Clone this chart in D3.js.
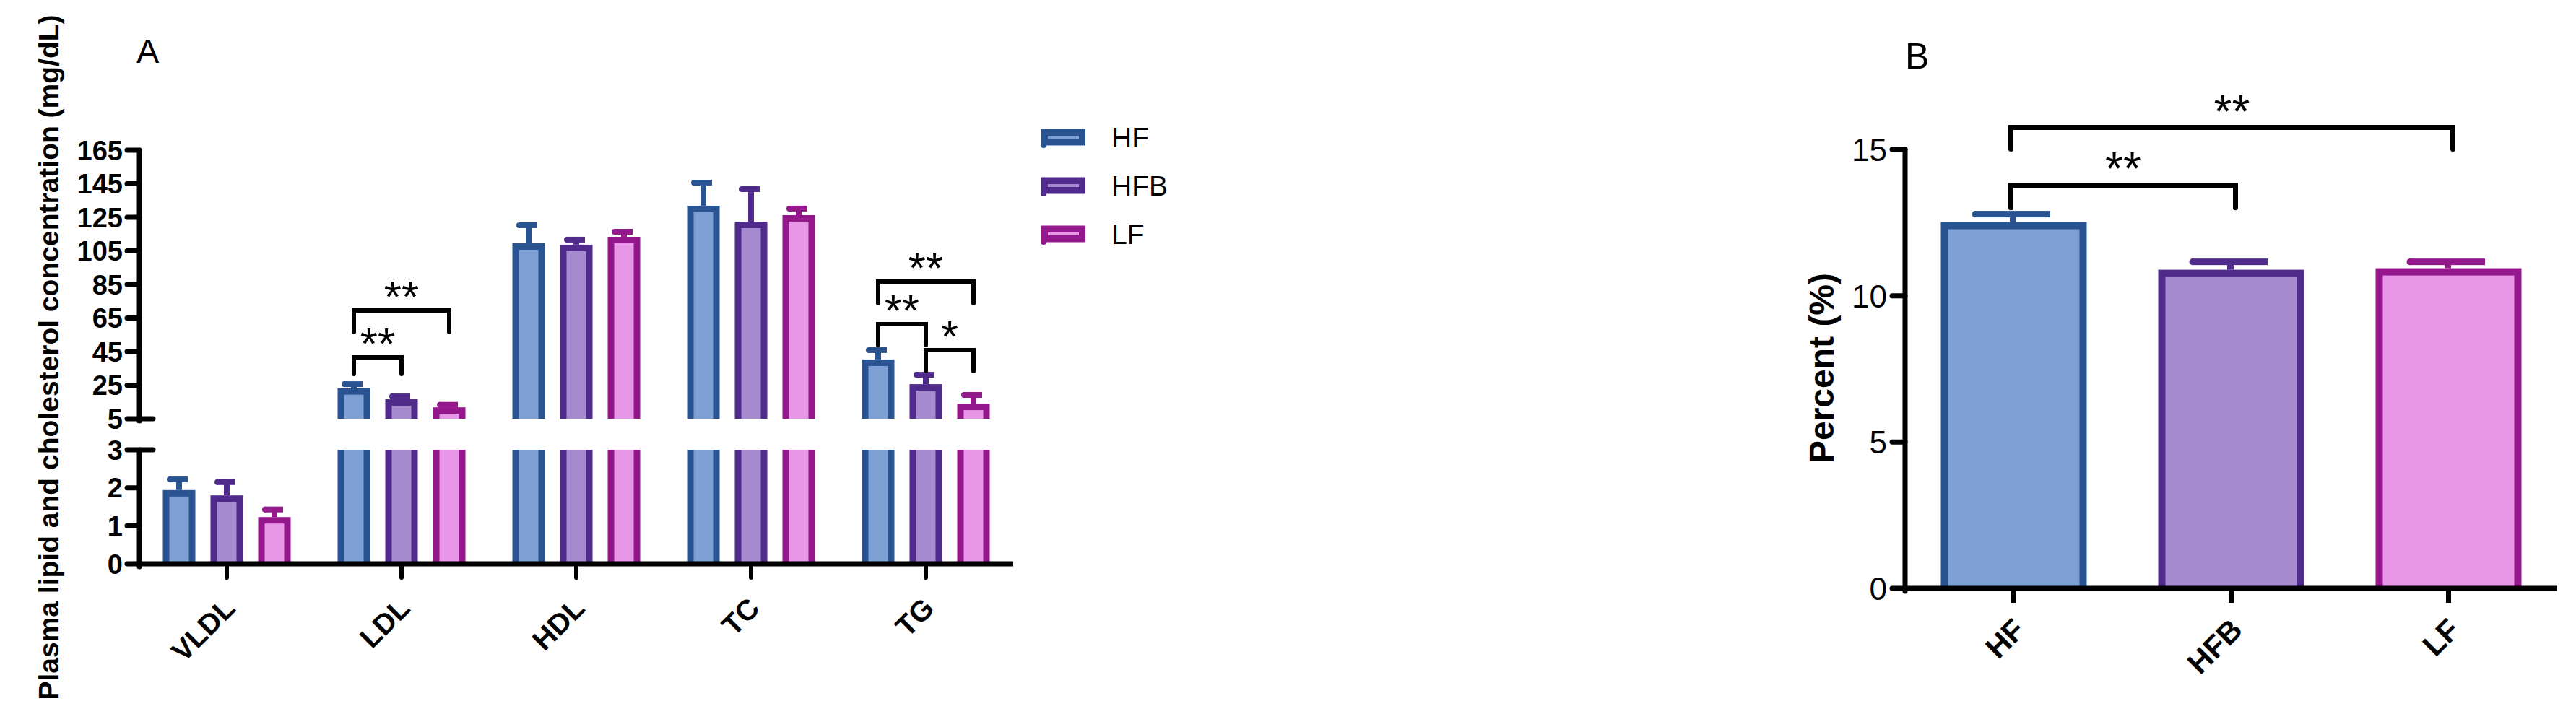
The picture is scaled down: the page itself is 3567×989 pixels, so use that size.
<!DOCTYPE html>
<html><head><meta charset="utf-8">
<script src="https://cdn.jsdelivr.net/npm/d3@7"></script>
<style>body{margin:0;background:#fff} svg{display:block} text{font-family:"Liberation Sans",Arial,sans-serif}</style>
</head><body>
<svg id="c" width="3567" height="989"></svg>
<script>
// ---------------- Data: panel A ----------------
const categories = ["VLDL", "LDL", "HDL", "TC", "TG"];
const series = ["HF", "HFB", "LF"];
const hfMean  = [1.94, 23.2, 109.5, 131.9, 40.3];
const hfErr   = [2.22, 25.6, 120.3, 145.6, 45.9];
const hfbMean = [1.80, 16.6, 108.7, 122.4, 25.6];
const hfbErr  = [2.15, 18.3, 111.7, 141.8, 31.2];
const lfMean  = [1.23, 11.8, 113.4, 126.3, 14.0];
const lfErr   = [1.43, 13.3, 116.4, 130.2, 19.2];
const upperTicks = [5, 25, 45, 65, 85, 105, 125, 145, 165];
const lowerTicks = [0, 1, 2, 3];
const sigCat  = ["LDL", "LDL", "TG", "TG", "TG"];
const sigFrom = ["HF", "HF", "HF", "HF", "HFB"];
const sigTo   = ["HFB", "LF", "HFB", "LF", "LF"];
const sigTop  = [41.6, 69.5, 61.3, 86.7, 45.9];
const sigLeg  = [31.7, 56.6, 48.9, 73.8, 33.4];
const sigText = ["**", "**", "**", "**", "*"];
const titleA = "Plasma lipid and cholesterol concentration (mg/dL)";

// ---------------- Data: panel B ----------------
const groupsB = ["HF", "HFB", "LF"];
const percentMean = [12.52, 10.89, 10.94];
const percentErr  = [12.79, 11.16, 11.16];
const ticksB = [0, 5, 10, 15];
const sigBFrom = ["HF", "HF"];
const sigBTo   = ["HFB", "LF"];
const sigBTop  = [13.78, 15.75];
const sigBLeg  = [13.01, 15.01];
const sigBText = ["**", "**"];
const titleB = "Percent (%)";

const palette = {
  HF:  {stroke: "#2A5391", fill: "#7FA0D4"},
  HFB: {stroke: "#512B8C", fill: "#A68BD1"},
  LF:  {stroke: "#94188C", fill: "#E896E8"}
};

const svg = d3.select("#c");
const means = {HF: hfMean, HFB: hfbMean, LF: lfMean};
const errs  = {HF: hfErr,  HFB: hfbErr,  LF: lfErr};

// ================= Panel A =================
const A = svg.append("g");
const x0 = d3.scaleBand().domain(categories).range([193, 1403]);
const x1 = d3.scaleBand().domain(series).range([-99, 99]);
const yU = d3.scaleLinear().domain([5, 165]).range([580, 208]);
const yL = d3.scaleLinear().domain([0, 3]).range([781, 623]);
const barW = 45, bw = 9;
const cxA = (c, s) => x0(c) + x0.bandwidth() / 2 + x1(s) + x1.bandwidth() / 2;

function barPiece(g, cx, yTop, yBot, s, topBorder) {
  g.append("rect").attr("x", cx - barW / 2).attr("y", yTop).attr("width", barW)
    .attr("height", yBot - yTop).attr("fill", palette[s].stroke);
  const inset = topBorder ? bw : 0;
  g.append("rect").attr("x", cx - barW / 2 + bw).attr("y", yTop + inset).attr("width", barW - 2 * bw)
    .attr("height", Math.max(0, yBot - yTop - inset)).attr("fill", palette[s].fill);
}
function errBar(g, cx, yTop, yE, s, capW, th) {
  g.append("line").attr("x1", cx).attr("x2", cx).attr("y1", yTop).attr("y2", yE)
    .attr("stroke", palette[s].stroke).attr("stroke-width", th);
  g.append("rect").attr("x", cx - capW / 2 - 1).attr("y", yE - th / 2).attr("width", capW)
    .attr("height", th).attr("fill", palette[s].stroke);
  g.append("circle").attr("cx", cx - capW / 2).attr("cy", yE).attr("r", th / 2).attr("fill", palette[s].stroke);
}

const bars = A.append("g");
categories.forEach((c, i) => {
  series.forEach(s => {
    const v = means[s][i], e = errs[s][i], cx = cxA(c, s);
    if (v <= 3) {
      barPiece(bars, cx, yL(v), yL(0), s, true);
      errBar(bars, cx, yL(v), yL(e), s, 26, 8);
    } else {
      barPiece(bars, cx, yL(3), yL(0), s, false);
      barPiece(bars, cx, yU(v), yU(5), s, true);
      errBar(bars, cx, yU(v), yU(e), s, 26, 8);
    }
  });
});

// axes A
const axA = A.append("g").attr("stroke", "#000").attr("stroke-linecap", "round");
axA.append("line").attr("x1", 193).attr("x2", 193).attr("y1", yU(165)).attr("y2", yU(5) + 3).attr("stroke-width", 7);
axA.append("line").attr("x1", 193).attr("x2", 193).attr("y1", yL(3)).attr("y2", yL(0) + 4).attr("stroke-width", 7);
axA.append("line").attr("x1", 193).attr("x2", 1403).attr("y1", yL(0)).attr("y2", yL(0)).attr("stroke-width", 7).attr("stroke-linecap", "butt");
upperTicks.forEach(t => {
  const y = yU(t), ext = t === 5 ? 19 : 0;
  axA.append("line").attr("x1", 176).attr("x2", 193 + ext).attr("y1", y).attr("y2", y).attr("stroke-width", 7);
});
lowerTicks.forEach(t => {
  const y = yL(t), ext = t === 3 ? 19 : 0;
  axA.append("line").attr("x1", 176).attr("x2", 193 + ext).attr("y1", y).attr("y2", y).attr("stroke-width", 7);
});
categories.forEach(c => {
  const x = x0(c) + x0.bandwidth() / 2;
  axA.append("line").attr("x1", x).attr("x2", x).attr("y1", yL(0)).attr("y2", yL(0) + 19).attr("stroke-width", 6);
});
const tlA = A.append("g").attr("font-size", 38).attr("font-weight", "bold").attr("text-anchor", "end");
upperTicks.forEach(t => tlA.append("text").attr("x", 170).attr("y", yU(t)).attr("dy", "0.36em").text(t));
lowerTicks.forEach(t => tlA.append("text").attr("x", 170).attr("y", yL(t)).attr("dy", "0.36em").text(t));
categories.forEach(c => {
  const x = x0(c) + x0.bandwidth() / 2;
  A.append("text").attr("transform", `translate(${x + 14},${yL(0) + 64}) rotate(-45)`)
    .attr("text-anchor", "end").attr("font-size", 40).attr("font-weight", "bold").text(c);
});
A.append("text").attr("transform", `translate(81,${495}) rotate(-90)`).attr("text-anchor", "middle")
  .attr("font-size", 39).attr("font-weight", "bold").text(titleA);
A.append("text").attr("x", 189).attr("y", 87).attr("font-size", 47).text("A");

// significance A
const sg = A.append("g");
sigCat.forEach((c, k) => {
  const xa = cxA(c, sigFrom[k]), xb = cxA(c, sigTo[k]);
  const yt = yU(sigTop[k]), yl = yU(sigLeg[k]);
  sg.append("path").attr("d", `M${xa},${yl}V${yt}H${xb}V${yl}`).attr("fill", "none")
    .attr("stroke", "#000").attr("stroke-width", 6).attr("stroke-linejoin", "miter").attr("stroke-linecap", "round");
  sg.append("text").attr("x", (xa + xb) / 2).attr("y", yt - 33 + 35).attr("text-anchor", "middle")
    .attr("font-size", 62).text(sigText[k]);
});

// legend
const lg = A.append("g");
series.forEach((s, j) => {
  const yc = 190 + j * 67;
  lg.append("rect").attr("x", 1441).attr("y", yc - 11.5).attr("width", 62).attr("height", 23).attr("fill", palette[s].stroke);
  lg.append("rect").attr("x", 1451).attr("y", yc - 2).attr("width", 43).attr("height", 4).attr("fill", palette[s].fill);
  lg.append("circle").attr("cx", 1445).attr("cy", yc + 11).attr("r", 4).attr("fill", palette[s].stroke);
  lg.append("text").attr("x", 1539).attr("y", yc).attr("dy", "0.36em").attr("font-size", 39).text(s);
});

// ================= Panel B =================
const B = svg.append("g");
const xB = d3.scaleBand().domain(groupsB).range([2638, 3541]);
const yB = d3.scaleLinear().domain([0, 15]).range([815, 207]);
const barWB = 202, bwB = 10;
const cxB = g => xB(g) + xB.bandwidth() / 2;
groupsB.forEach((g, i) => {
  const cx = cxB(g), v = percentMean[i], e = percentErr[i];
  B.append("rect").attr("x", cx - barWB / 2).attr("y", yB(v)).attr("width", barWB).attr("height", yB(0) - yB(v)).attr("fill", palette[g].stroke);
  B.append("rect").attr("x", cx - barWB / 2 + bwB).attr("y", yB(v) + bwB).attr("width", barWB - 2 * bwB).attr("height", yB(0) - yB(v) - bwB).attr("fill", palette[g].fill);
  errBar(B, cx - 1, yB(v), yB(e), g, 105, 9);
});
const axB = B.append("g").attr("stroke", "#000").attr("stroke-linecap", "round");
axB.append("line").attr("x1", 2638).attr("x2", 2638).attr("y1", yB(15)).attr("y2", yB(0) + 4).attr("stroke-width", 7);
axB.append("line").attr("x1", 2638).attr("x2", 3541).attr("y1", yB(0)).attr("y2", yB(0)).attr("stroke-width", 7).attr("stroke-linecap", "butt");
ticksB.forEach(t => axB.append("line").attr("x1", 2620).attr("x2", 2638).attr("y1", yB(t)).attr("y2", yB(t)).attr("stroke-width", 7));
groupsB.forEach(g => axB.append("line").attr("x1", cxB(g)).attr("x2", cxB(g)).attr("y1", yB(0)).attr("y2", yB(0) + 20).attr("stroke-width", 7).attr("stroke-linecap", "butt"));
ticksB.forEach(t => B.append("text").attr("x", 2613).attr("y", yB(t)).attr("dy", "0.36em").attr("text-anchor", "end").attr("font-size", 44).text(t));
groupsB.forEach(g => B.append("text").attr("transform", `translate(${cxB(g) + 18},${yB(0) + 60}) rotate(-45)`)
  .attr("text-anchor", "end").attr("font-size", 42).attr("font-weight", "bold").text(g));
B.append("text").attr("transform", `translate(2539,510) rotate(-90)`).attr("text-anchor", "middle")
  .attr("font-size", 48).attr("font-weight", "bold").text(titleB);
B.append("text").attr("x", 2638).attr("y", 95).attr("font-size", 50).text("B");
sigBFrom.forEach((f, k) => {
  const xa = cxB(f) - 4, xb = cxB(sigBTo[k]) + 6;
  const yt = yB(sigBTop[k]), yl = yB(sigBLeg[k]);
  B.append("path").attr("d", `M${xa},${yl}V${yt}H${xb}V${yl}`).attr("fill", "none")
    .attr("stroke", "#000").attr("stroke-width", 7).attr("stroke-linecap", "round");
  B.append("text").attr("x", (xa + xb) / 2).attr("y", yt - 35 + 35).attr("text-anchor", "middle")
    .attr("font-size", 64).text(sigBText[k]);
});
</script>
</body></html>
